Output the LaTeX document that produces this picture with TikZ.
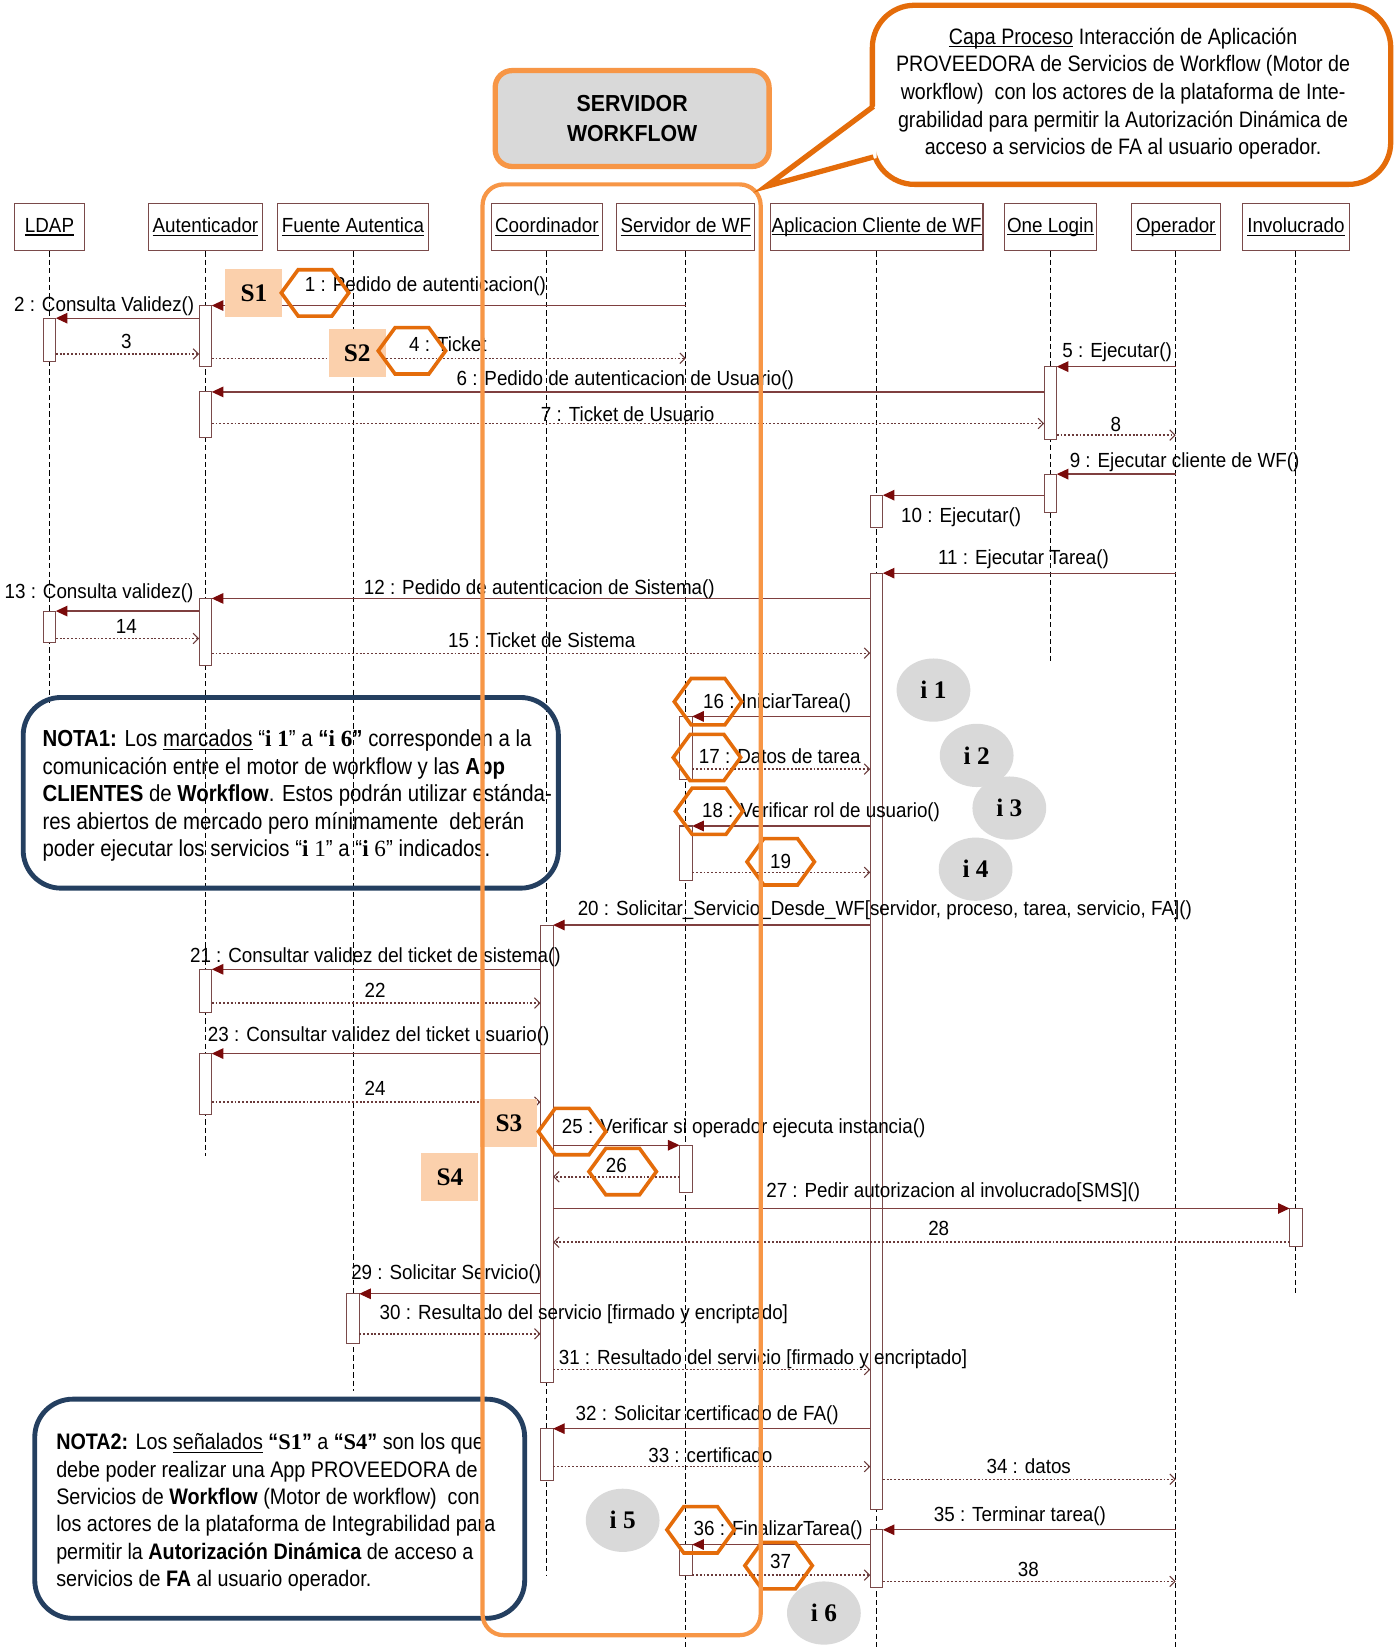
\documentclass[tikz,border=0pt]{standalone}
\usepackage{fontspec}
\setmainfont{Liberation Sans}
\newfontfamily\lblfont[FakeStretch=0.92]{Liberation Sans}
\newfontfamily\notefont[FakeStretch=0.88]{Liberation Sans}
\newfontfamily\tnrfont{Liberation Serif}
\usetikzlibrary{arrows.meta,shapes.geometric}

\definecolor{msgline}{HTML}{7F3F3F}
\definecolor{retline}{HTML}{6A3A3A}
\definecolor{tipred}{HTML}{7A0A0A}
\definecolor{boxedge}{HTML}{7A4A4A}
\definecolor{frameorange}{HTML}{F79646}
\definecolor{darkorange}{HTML}{E46C0A}
\definecolor{peach}{HTML}{FBD0AC}
\definecolor{bubblegray}{HTML}{D9D9D9}
\definecolor{notenavy}{HTML}{243F60}

% underline set just below the baseline
\newsavebox\ulbox
\newcommand\ulin[1]{\sbox\ulbox{#1}\rlap{\rule[-1.4pt]{\wd\ulbox}{0.55pt}}\usebox\ulbox}
% message between two named points on the same row
\newcommand\msg[5]{\coordinate (m#1a) at (#4,#3); \coordinate (m#1b) at (#5,#3); \draw[#2] (m#1a) -- (m#1b);}
% activation bar on a lifeline
\newcommand\actbar[3]{\draw[act] (#1-6,#2) rectangle (#1+6,#3);}
% orange hexagon marker
\newcommand\hexmark[2]{\draw[hexline] (#1-32,#2) -- ++(16,-22) -- ++(32,0) -- ++(16,22) -- ++(-16,22) -- ++(-32,0) -- cycle;}

\begin{document}
\begin{tikzpicture}[x=0.5pt,y=-0.5pt,
  actor/.style={draw=boxedge, fill=white, line width=0.5pt, minimum height=22.5pt, inner sep=0pt,
                font=\lblfont\fontsize{9.7}{11}\selectfont},
  lifeline/.style={draw=black, line width=0.4pt, dash pattern=on 2.5pt off 1.5pt},
  act/.style={draw=boxedge, fill=white, line width=0.5pt},
  call/.style={draw=msgline, line width=0.6pt, -{Triangle[length=5.5pt,width=5pt,color=tipred]}},
  ret/.style={draw=retline, line width=0.65pt, dash pattern=on 0.9pt off 0.9pt,
              -{Straight Barb[length=2.5pt,width=5pt,line width=0.5pt]}},
  lbl/.style={inner sep=0pt, anchor=base west, font=\lblfont\fontsize{9.7}{11}\selectfont},
  lblc/.style={lbl, anchor=base},
  sbox/.style={fill=peach, inner sep=0pt, minimum width=27pt, minimum height=22.5pt,
               font=\tnrfont\bfseries\fontsize{12}{12}\selectfont},
  hexline/.style={draw=darkorange, line width=1.7pt, line join=miter},
  bubble/.style={ellipse, fill=bubblegray, inner sep=0pt, minimum width=35pt, minimum height=30pt,
                 font=\tnrfont\bfseries\fontsize{12}{12}\selectfont},
  notebox/.style={draw=notenavy, line width=2.3pt, rounded corners=18pt},
  notetxt/.style={inner sep=0pt, anchor=base west, font=\notefont\fontsize{11}{13}\selectfont},
  notetxtb/.style={notetxt, font=\notefont\fontsize{10.65}{13}\selectfont},
  callouttxt/.style={inner sep=0pt, anchor=base, font=\notefont\fontsize{10.6}{13}\selectfont}
]
\useasboundingbox (0,0) rectangle (1325,1568);
\fill[white] (0,0) rectangle (1325,1568);

% ---------- participants ----------
\node[actor, minimum width=33pt]   (hL)  at (47,215.5)   {\ulin{LDAP}};
\node[actor, minimum width=54pt]   (hA)  at (195,215.5)  {\ulin{Autenticador}};
\node[actor, minimum width=71.5pt] (hF)  at (335,215.5)  {\ulin{Fuente Autentica}};
\node[actor, minimum width=52.5pt] (hC)  at (519,215.5)  {\ulin{Coordinador}};
\node[actor, minimum width=65.5pt] (hS)  at (651,215.5)  {\ulin{Servidor de WF}};
\node[actor, minimum width=101pt]  (hAC) at (832,215.5)  {\ulin{Aplicacion Cliente de WF}};
\node[actor, minimum width=44pt]   (hO)  at (997,215.5)  {\ulin{One Login}};
\node[actor, minimum width=42pt]   (hOp) at (1116,215.5) {\ulin{Operador}};
\node[actor, minimum width=51pt]   (hI)  at (1230,215.5) {\ulin{Involucrado}};

% ---------- lifelines ----------
\coordinate (eL)  at (47,668);   \draw[lifeline] (hL.south)  -- (eL);
\coordinate (eA)  at (195,1097); \draw[lifeline] (hA.south)  -- (eA);
\coordinate (eF)  at (335,1320); \draw[lifeline] (hF.south)  -- (eF);
\coordinate (eC)  at (519,1496); \draw[lifeline] (hC.south)  -- (eC);
\coordinate (eS)  at (651,1565); \draw[lifeline] (hS.south)  -- (eS);
\coordinate (eAC) at (832,1565); \draw[lifeline] (hAC.south) -- (eAC);
\coordinate (eO)  at (997,630);  \draw[lifeline] (hO.south)  -- (eO);
\coordinate (eOp) at (1116,1565);\draw[lifeline] (hOp.south) -- (eOp);
\coordinate (eI)  at (1230,1229);\draw[lifeline] (hI.south)  -- (eI);

% ---------- activation bars ----------
\actbar{195}{290}{348} \actbar{195}{372}{415} \actbar{195}{568}{632}
\actbar{195}{920}{961} \actbar{195}{1000}{1058}
\actbar{47}{302}{343}  \actbar{47}{580}{610}
\actbar{997}{348}{417} \actbar{997}{450}{486}
\actbar{832}{470}{501} \actbar{832}{544}{1433} \actbar{832}{1452}{1507}
\actbar{651}{680}{740} \actbar{651}{784}{836} \actbar{651}{1087}{1132} \actbar{651}{1466}{1495}
\actbar{519}{878}{1312} \actbar{519}{1356}{1405}
\actbar{1230}{1147}{1183}
\actbar{335}{1228}{1275}

% ---------- messages ----------
\msg{1}{call}{290}{651}{201}
\msg{2}{call}{302}{189}{53}
\msg{3}{ret}{336}{53}{189}
\msg{4}{ret}{340}{201}{651}
\msg{5}{call}{348}{1116}{1003}
\msg{6}{call}{372}{991}{201}
\msg{7}{ret}{402}{201}{991}
\msg{8}{ret}{413}{1003}{1116}
\msg{9}{call}{450}{1116}{1003}
\msg{10}{call}{470}{991}{838}
\msg{11}{call}{544}{1116}{838}
\msg{12}{call}{568}{826}{201}
\msg{13}{call}{580}{189}{53}
\msg{14}{ret}{606}{53}{189}
\msg{15}{ret}{620}{201}{826}
\msg{16}{call}{680}{826}{657}
\msg{17}{ret}{730}{657}{826}
\msg{18}{call}{784}{826}{657}
\msg{19}{ret}{828}{657}{826}
\msg{20}{call}{878}{826}{525}
\msg{21}{call}{920}{513}{201}
\msg{22}{ret}{952}{201}{513}
\msg{23}{call}{1000}{513}{201}
\msg{24}{ret}{1046}{201}{513}
\msg{25}{call}{1087}{525}{645}
\msg{26}{ret}{1117}{645}{525}
\msg{27}{call}{1147}{525}{1224}
\msg{28}{ret}{1179}{1224}{525}
\msg{29}{call}{1228}{513}{341}
\msg{30}{ret}{1266}{341}{513}
\msg{31}{ret}{1300}{525}{826}
\msg{32}{call}{1356}{826}{525}
\msg{33}{ret}{1392}{525}{826}
\msg{34}{ret}{1404}{838}{1116}
\msg{35}{call}{1452}{1116}{838}
\msg{36}{call}{1466}{826}{657}
\msg{37}{ret}{1495}{657}{826}
\msg{38}{ret}{1501}{838}{1116}

% ---------- message labels ----------
\node[lbl]  (t1)  at (289,277)  {1 : Pedido de autenticacion()};
\node[lbl]  (t2)  at (13,296)   {2 : Consulta Validez()};
\node[lblc] (t3)  at (120,331)  {3};
\node[lbl]  (t4)  at (388,334)  {4 : Ticket};
\node[lbl]  (t5)  at (1008,339) {5 : Ejecutar()};
\node[lbl]  (t6)  at (433,366)  {6 : Pedido de autenticacion de Usuario()};
\node[lbl]  (t7)  at (513,400)  {7 : Ticket de Usuario};
\node[lblc] (t8)  at (1059,410) {8};
\node[lbl]  (t9)  at (1015,444) {9 : Ejecutar cliente de WF()};
\node[lbl]  (t10) at (855,496)  {10 : Ejecutar()};
\node[lbl]  (t11) at (890,536)  {11 : Ejecutar Tarea()};
\node[lbl]  (t12) at (345,564)  {12 : Pedido de autenticacion de Sistema()};
\node[lbl]  (t13) at (4,568)    {13 : Consulta validez()};
\node[lblc] (t14) at (120,601)  {14};
\node[lbl]  (t15) at (425,615)  {15 : Ticket de Sistema};
\node[lbl]  (t16) at (667,672)  {16 : IniciarTarea()};
\node[lbl]  (t17) at (663,725)  {17 : Datos de tarea};
\node[lbl]  (t18) at (666,776)  {18 : Verificar rol de usuario()};
\node[lblc] (t19) at (741,824)  {19};
\node[lbl]  (t20) at (548,869)  {20 : Solicitar\_Servicio\_Desde\_WF[servidor, proceso, tarea, servicio, FA]()};
\node[lbl]  (t21) at (180,914)  {21 : Consultar validez del ticket de sistema()};
\node[lblc] (t22) at (356,947)  {22};
\node[lbl]  (t23) at (197,989)  {23 : Consultar validez del ticket usuario()};
\node[lblc] (t24) at (356,1040) {24};
\node[lbl]  (t25) at (533,1076) {25 : Verificar si operador ejecuta instancia()};
\node[lblc] (t26) at (585,1113) {26};
\node[lbl]  (t27) at (727,1137) {27 : Pedir autorizacion al involucrado[SMS]()};
\node[lblc] (t28) at (891,1173) {28};
\node[lbl]  (t29) at (333,1214) {29 : Solicitar Servicio()};
\node[lbl]  (t30) at (360,1252) {30 : Resultado del servicio [firmado y encriptado]};
\node[lbl]  (t31) at (530,1295) {31 : Resultado del servicio [firmado y encriptado]};
\node[lbl]  (t32) at (546,1348) {32 : Solicitar certificado de FA()};
\node[lbl]  (t33) at (615,1388) {33 : certificado};
\node[lbl]  (t34) at (936,1399) {34 : datos};
\node[lbl]  (t35) at (886,1444) {35 : Terminar tarea()};
\node[lbl]  (t36) at (658,1457) {36 : FinalizarTarea()};
\node[lblc] (t37) at (741,1489) {37};
\node[lblc] (t38) at (976,1496) {38};

% ---------- step markers ----------
\node[sbox] (s1) at (241,278)  {S1};
\node[sbox] (s2) at (339,335)  {S2};
\node[sbox] (s3) at (483,1066) {S3};
\node[sbox] (s4) at (427,1117) {S4};

\hexmark{299}{278}
\hexmark{391}{333}
\hexmark{672}{666}
\hexmark{671}{719}
\hexmark{673}{770}
\hexmark{741}{818}
\hexmark{543}{1074}
\hexmark{591}{1112}
\hexmark{665}{1452}
\hexmark{739}{1486}

\node[bubble] (i1) at (886,655)  {i 1};
\node[bubble] (i2) at (927,717)  {i 2};
\node[bubble] (i3) at (958,767)  {i 3};
\node[bubble] (i4) at (926,825)  {i 4};
\node[bubble] (i5) at (591,1443) {i 5};
\node[bubble] (i6) at (782,1531) {i 6};

% ---------- notes ----------
\draw[notebox] (22,662) rectangle (530,843);
\node[notetxt] (n1a) at (40,709) {\textbf{NOTA1:} Los \ulin{marcados} “{\tnrfont\bfseries i 1}” a \textbf{“}{\tnrfont\bfseries i 6}\textbf{”} corresponden a la};
\node[notetxt] (n1b) at (40,735) {comunicación entre el motor de workflow y las \textbf{App}};
\node[notetxt] (n1c) at (40,761) {\textbf{CLIENTES} de \textbf{Workflow}. Estos podrán utilizar estánda-};
\node[notetxt] (n1d) at (40,787) {res abiertos de mercado pero mínimamente\ \ deberán};
\node[notetxt] (n1e) at (40,813) {poder ejecutar los servicios “{\tnrfont\textbf{i} 1}” a “{\tnrfont\textbf{i} 6}” indicados.};

\draw[notebox] (33,1328) rectangle (498,1536);
\node[notetxtb] (n2a) at (53,1376) {\textbf{NOTA2:} Los \ulin{señalados} \textbf{“}{\tnrfont\bfseries S1}\textbf{”} a \textbf{“}{\tnrfont\bfseries S4}\textbf{”} son los que};
\node[notetxtb] (n2b) at (53,1402) {debe poder realizar una App PROVEEDORA de};
\node[notetxtb] (n2c) at (53,1428) {Servicios de \textbf{Workflow} (Motor de workflow)\ \ con};
\node[notetxtb] (n2d) at (53,1454) {los actores de la plataforma de Integrabilidad para};
\node[notetxtb] (n2e) at (53,1480) {permitir la \textbf{Autorización Dinámica} de acceso a};
\node[notetxtb] (n2f) at (53,1506) {servicios de \textbf{FA} al usuario operador.};

% ---------- workflow server frame ----------
\draw[frameorange, line width=2pt, rounded corners=10pt] (458,175) rectangle (722,1552);

\node[draw=frameorange, fill=bubblegray, line width=2.5pt, rounded corners=8pt,
      minimum width=130pt, minimum height=45.5pt, align=center, inner sep=0pt,
      font=\lblfont\bfseries\fontsize{11}{14.5}\selectfont] (title) at (600,112.5) {SERVIDOR\\WORKFLOW};

% ---------- callout ----------
\draw[darkorange, line width=2.5pt, fill=white, rounded corners=20pt] (828,5) rectangle (1320,175);
\fill[white] (727,177) -- (832,100) -- (832,150) -- cycle;
\coordinate (ptip) at (727,177);
\coordinate (pbase1) at (829,101);
\coordinate (pbase2) at (829,149);
\draw[darkorange, line width=2.5pt, line join=miter] (pbase1) -- (ptip) -- (pbase2);
\node[callouttxt] (c1) at (1066,42)  {\ulin{Capa Proceso} Interacción de Aplicación};
\node[callouttxt] (c2) at (1066,68)  {PROVEEDORA de Servicios de Workflow (Motor de};
\node[callouttxt] (c3) at (1066,94)  {workflow)\ \ con los actores de la plataforma de Inte-};
\node[callouttxt] (c4) at (1066,121) {grabilidad para permitir la Autorización Dinámica de};
\node[callouttxt] (c5) at (1066,147) {acceso a servicios de FA al usuario operador.};
\end{tikzpicture}
\end{document}
